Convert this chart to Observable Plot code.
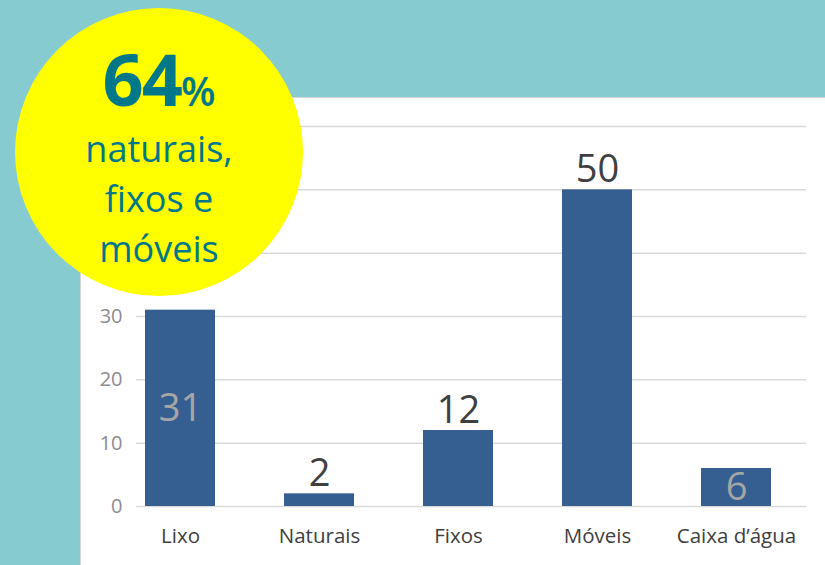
<!DOCTYPE html>
<html>
<head>
<meta charset="utf-8">
<script src="https://cdn.jsdelivr.net/npm/d3@7"></script>
<script src="https://cdn.jsdelivr.net/npm/@observablehq/plot@0.6"></script>
<style>
  html, body { margin: 0; padding: 0; }
  #page { position: relative; width: 825px; height: 565px; background: #85CBCF; overflow: hidden; font-family: "Open Sans", sans-serif; }
  #panel { position: absolute; left: 80px; top: 97px; width: 745px; height: 468px; background: #fff; border-left: 1px solid #d6d6d6; border-top: 1px solid #d6d6d6; box-sizing: border-box; }
  #chart { position: absolute; left: 0; top: 0; }
  #badge { position: absolute; left: 15px; top: 8px; width: 288px; height: 288px; border-radius: 50%; background: #ffff00; color: #00788A; text-align: center; }
  #badge .big { position: absolute; left: 0; right: 0; top: 25px; font-weight: 700; font-size: 72px; line-height: 90px; letter-spacing: -2px; }
  #badge .big span { font-size: 40px; font-weight: 600; letter-spacing: 0; }
  #badge .sub { position: absolute; left: 0; right: 0; top: 116px; font-size: 36px; line-height: 50px; }
</style>
</head>
<body>
<div id="page">
  <div id="panel"></div>
  <div id="chart"></div>
  <div id="badge">
    <div class="big">64<span>%</span></div>
    <div class="sub">naturais,<br>fixos e<br>móveis</div>
  </div>
</div>
<script>
const categories = ["Lixo", "Naturais", "Fixos", "Móveis", "Caixa d’água"];
const values = [31, 2, 12, 50, 6];
const insideLabelCategories = ["Lixo", "Caixa d’água"];
const gridTicks = [0, 10, 20, 30, 40, 50, 60];
const visibleTickLabels = [0, 10, 20, 30];

const data = categories.map((c, i) => ({category: c, value: values[i]}));
const inside = data.filter(d => insideLabelCategories.includes(d.category));
const outside = data.filter(d => !insideLabelCategories.includes(d.category));

const chart = Plot.plot({
  width: 825,
  height: 565,
  marginTop: 126,
  marginBottom: 59,
  marginLeft: 136,
  marginRight: 19,
  style: {background: "transparent", fontFamily: "Open Sans, sans-serif"},
  x: {domain: categories, paddingInner: 0.5, paddingOuter: 0.15, align: 0.21, label: null},
  y: {domain: [0, 60], label: null},
  marks: [
    Plot.gridY(gridTicks, {stroke: "#d9d9d9", strokeOpacity: 1, strokeWidth: 1.5}),
    Plot.axisY(visibleTickLabels, {tickSize: 0, tickPadding: 14, fontSize: 20, fill: "#8c8c8c", label: null}),
    Plot.axisX({tickSize: 0, tickPadding: 22, fontSize: 20.5, fill: "#404040", label: null}),
    Plot.barY(data, {x: "category", y: "value", fill: "#365F91"}),
    Plot.text(outside, {x: "category", y: "value", text: d => String(d.value), lineAnchor: "bottom", dy: -8, fontSize: 38, fill: "#404040"}),
    Plot.text(inside, {x: "category", y: d => d.value / 2, text: d => String(d.value), lineAnchor: "middle", fontSize: 38, fill: "#a6a6a6"})
  ]
});
document.getElementById("chart").appendChild(chart);
</script>
</body>
</html>
